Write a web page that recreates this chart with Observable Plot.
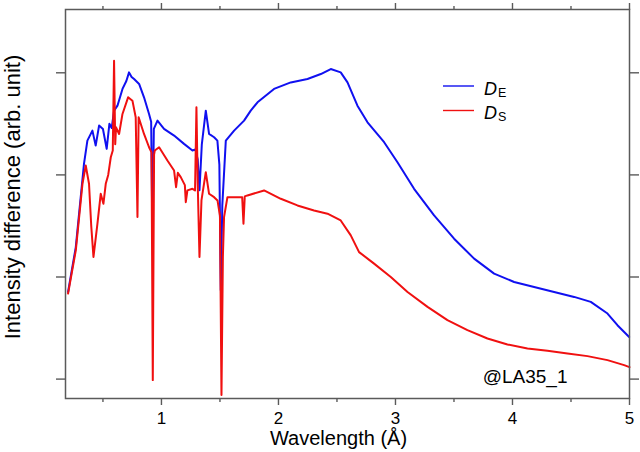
<!DOCTYPE html>
<html>
<head>
<meta charset="utf-8">
<script src="https://cdn.jsdelivr.net/npm/d3@7"></script>
<script src="https://cdn.jsdelivr.net/npm/@observablehq/plot@0.6"></script>
<style>
  body { margin: 0; background: #fff; }
  #chart { position: relative; width: 640px; height: 452px; font-family: "Liberation Sans", Arial, Helvetica, sans-serif; }
  #legend { position: absolute; left: 0; top: 0; pointer-events: none; }
</style>
</head>
<body>
<div id="chart"></div>
<script>
// D_E spectrum: wavelength (Å) and intensity difference (arb. unit)
const wavelengthE = [
  0.202, 0.268, 0.338, 0.367, 0.410, 0.438, 0.467, 0.500, 0.532, 0.555, 0.575, 0.595, 0.624,
  0.667, 0.700, 0.723, 0.745, 0.766, 0.809, 0.851, 0.894, 0.912, 0.923, 0.935, 0.966, 1.022,
  1.108, 1.193, 1.265, 1.290, 1.310, 1.325, 1.345, 1.379, 1.407, 1.450, 1.478, 1.495, 1.507,
  1.520, 1.550, 1.621, 1.706, 1.763, 1.821, 1.962, 2.105, 2.248, 2.362, 2.447, 2.532, 2.590,
  2.675, 2.761, 2.903, 3.017, 3.159, 3.330, 3.501, 3.672, 3.843, 4.014, 4.185, 4.356, 4.527,
  4.669, 4.812, 4.897, 4.997
];
const intensityE = [
  0.853, 1.293, 2.108, 2.336, 2.434, 2.287, 2.483, 2.450, 2.255, 2.500, 2.460, 2.629, 2.678,
  2.842, 2.920, 3.004, 2.960, 2.939, 2.891, 2.760, 2.597, 2.520, 1.390, 2.450, 2.532, 2.451,
  2.385, 2.304, 2.239, 2.250, 2.150, 1.850, 2.300, 2.629, 2.401, 2.369, 2.336, 2.100, 0.870,
  1.700, 2.336, 2.434, 2.532, 2.629, 2.711, 2.842, 2.906, 2.939, 2.988, 3.037, 3.004, 2.906,
  2.678, 2.515, 2.320, 2.124, 1.864, 1.603, 1.375, 1.180, 1.033, 0.951, 0.902, 0.853, 0.805,
  0.756, 0.642, 0.528, 0.413
];

// D_S spectrum
const wavelengthS = [
  0.202, 0.268, 0.325, 0.353, 0.381, 0.400, 0.419, 0.453, 0.481, 0.504, 0.524, 0.545, 0.567,
  0.584, 0.595, 0.605, 0.612, 0.638, 0.667, 0.715, 0.752, 0.780, 0.795, 0.805, 0.851, 0.894,
  0.915, 0.926, 0.937, 0.943, 0.980, 1.051, 1.108, 1.125, 1.140, 1.165, 1.200, 1.208, 1.222,
  1.265, 1.287, 1.299, 1.310, 1.325, 1.342, 1.379, 1.407, 1.450, 1.479, 1.500, 1.513, 1.525,
  1.535, 1.564, 1.650, 1.690, 1.701, 1.712, 1.735, 1.877, 2.020, 2.162, 2.304, 2.419, 2.532,
  2.618, 2.689, 2.817, 2.960, 3.103, 3.274, 3.444, 3.615, 3.786, 3.957, 4.128, 4.299, 4.470,
  4.641, 4.812, 4.954, 5.000
];
const intensityS = [
  0.838, 1.261, 1.913, 2.092, 1.913, 1.500, 1.196, 1.522, 1.815, 1.717, 1.913, 2.000, 2.173,
  2.239, 3.118, 2.300, 2.466, 2.401, 2.597, 2.760, 2.727, 2.564, 1.587, 2.564, 2.401, 2.271,
  2.220, -0.010, 2.200, 2.239, 2.271, 2.141, 2.043, 1.880, 2.020, 1.978, 1.900, 1.733, 1.848,
  1.864, 1.848, 2.662, 1.913, 1.196, 1.750, 2.027, 1.815, 1.782, 1.750, 1.600, -0.156, 1.200,
  1.587, 1.782, 1.782, 1.780, 1.522, 1.790, 1.799, 1.848, 1.766, 1.701, 1.652, 1.620, 1.554,
  1.408, 1.244, 1.131, 1.000, 0.853, 0.707, 0.577, 0.479, 0.398, 0.339, 0.300, 0.277, 0.251,
  0.225, 0.186, 0.137, 0.117
];

// Axis ticks and labels
const majorX = [1, 2, 3, 4, 5];
const minorX = [0.5, 1.5, 2.5, 3.5, 4.5];
const yTicks = [0, 1, 2, 3];
const xTitle = "Wavelength (Å)";
const yTitle = "Intensity difference (arb. unit)";
const sampleTag = "@LA35_1";
const seriesNames = ["E", "S"];
const seriesColors = ["#1010f0", "#f01010"];

const seriesE = wavelengthE.map((w, i) => ({ w, v: intensityE[i] }));
const seriesS = wavelengthS.map((w, i) => ({ w, v: intensityS[i] }));

const axisGray = "#5a5a5a";
const font = '"Liberation Sans", Arial, Helvetica, sans-serif';

const chart = Plot.plot({
  width: 640,
  height: 452,
  marginLeft: 65,
  marginRight: 11,
  marginTop: 9,
  marginBottom: 54,
  style: { fontFamily: font, fontSize: "17px", color: "#000", background: "#fff" },
  x: { domain: [0.18, 5.0] },
  y: { domain: [-0.19, 3.62] },
  marks: [
    Plot.line(seriesE, { x: "w", y: "v", stroke: seriesColors[0], strokeWidth: 2 }),
    Plot.line(seriesS, { x: "w", y: "v", stroke: seriesColors[1], strokeWidth: 2 }),
    Plot.axisX(majorX, { anchor: "bottom", tickSize: 7, tickPadding: 6, stroke: axisGray, strokeWidth: 1.4, fill: "#000", label: null, tickFormat: d => String(d) }),
    Plot.axisX(minorX, { anchor: "bottom", tickSize: 4, stroke: axisGray, strokeWidth: 1.4, fill: "none", label: null }),
    Plot.axisX(majorX, { anchor: "top", tickSize: 7, stroke: axisGray, strokeWidth: 1.4, fill: "none", label: null }),
    Plot.axisX(minorX, { anchor: "top", tickSize: 4, stroke: axisGray, strokeWidth: 1.4, fill: "none", label: null }),
    Plot.axisY(yTicks, { anchor: "left", tickSize: 9, stroke: axisGray, strokeWidth: 1.4, fill: "none", label: null }),
    Plot.axisY(yTicks, { anchor: "right", tickSize: 9, stroke: axisGray, strokeWidth: 1.4, fill: "none", label: null }),
    Plot.frame({ stroke: axisGray, strokeWidth: 1.5 }),
    Plot.text([xTitle], { text: d => d, frameAnchor: "bottom", textAnchor: "middle", lineAnchor: "middle", dx: -9, dy: 40, fontSize: 20, fill: "#000" }),
    Plot.text([yTitle], { text: d => d, frameAnchor: "left", textAnchor: "middle", lineAnchor: "middle", rotate: -90, dx: -53, dy: -7, fontSize: 22, fill: "#000" }),
    Plot.text([sampleTag], { text: d => d, frameAnchor: "bottom-right", textAnchor: "end", lineAnchor: "middle", dx: -62, dy: -22, fontSize: 19, fill: "#000" })
  ]
});

const host = document.getElementById("chart");
host.appendChild(chart);

// Legend: a line swatch with an italic D and an upright subscript per series
const ns = "http://www.w3.org/2000/svg";
const legend = document.createElementNS(ns, "svg");
legend.setAttribute("id", "legend");
legend.setAttribute("width", 640);
legend.setAttribute("height", 452);
seriesNames.forEach((name, i) => {
  const yLine = 86 + i * 24.5;
  const line = document.createElementNS(ns, "line");
  line.setAttribute("x1", 443);
  line.setAttribute("x2", 474);
  line.setAttribute("y1", yLine);
  line.setAttribute("y2", yLine);
  line.setAttribute("stroke", seriesColors[i]);
  line.setAttribute("stroke-width", 1.4);
  legend.appendChild(line);
  const t = document.createElementNS(ns, "text");
  t.setAttribute("x", 484);
  t.setAttribute("y", yLine + 8.5);
  t.setAttribute("font-family", font);
  t.setAttribute("fill", "#000");
  const d = document.createElementNS(ns, "tspan");
  d.setAttribute("font-style", "italic");
  d.setAttribute("font-size", 18);
  d.textContent = "D";
  const sub = document.createElementNS(ns, "tspan");
  sub.setAttribute("font-size", 12.5);
  sub.setAttribute("dx", 1);
  sub.setAttribute("dy", 2);
  sub.textContent = name;
  t.appendChild(d);
  t.appendChild(sub);
  legend.appendChild(t);
});
host.appendChild(legend);
</script>
</body>
</html>
